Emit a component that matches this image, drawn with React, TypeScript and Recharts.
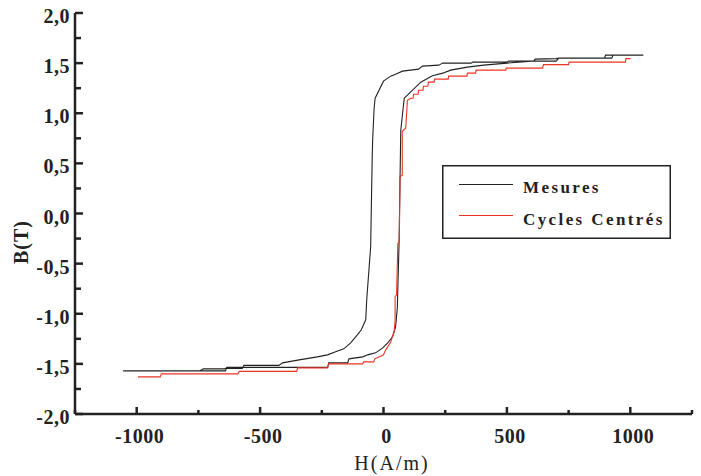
import { LineChart, Line, XAxis, YAxis, Legend } from 'recharts';

// Mesures : cycle complet (branche descendante puis montante)
const mesuresH = [
  1053, 900, 895, 710, 700, 615, 608, 507, 500, 362, 355, 240, 232, 224, 158, 142,
  77, 49, 29, 0, -34, -38, -44, -46, -52, -68, -72, -90, -106, -133, -161, -194,
  -227, -268, -342, -409, -424, -566, -572, -640, -645, -730, -745, -1055,
  -640, -635, -226, -222, -145, -140, -84, -64, -32, -3, 17, 37, 49, 56, 63, 70,
  84, 97, 151, 198, 240, 272, 340, 406, 500, 600, 700, 710, 925, 930, 1053,
];
const mesuresB = [
  1.58, 1.58, 1.55, 1.55, 1.545, 1.54, 1.52, 1.52, 1.51, 1.51, 1.5, 1.5, 1.49, 1.48, 1.47, 1.44,
  1.42, 1.39, 1.37, 1.32, 1.15, 1.05, 0.73, 0.53, -0.33, -0.86, -1.06, -1.16, -1.21, -1.29, -1.35, -1.38,
  -1.41, -1.43, -1.46, -1.49, -1.515, -1.515, -1.545, -1.545, -1.55, -1.55, -1.57, -1.57,
  -1.57, -1.535, -1.535, -1.49, -1.49, -1.45, -1.43, -1.41, -1.39, -1.34, -1.29, -1.23, -1.13, -0.94, -0.3, 0.83,
  1.15, 1.18, 1.31, 1.375, 1.4, 1.43, 1.46, 1.48, 1.5, 1.52, 1.52, 1.55, 1.55, 1.58, 1.58,
];

// Cycles centrés : branche montante
const centresH = [
  -995, -905, -900, -590, -585, -352, -348, -227, -222, -85, -80, -40, -35, 0, 5, 12,
  22, 30, 35, 43, 47, 47, 53, 58, 64, 67, 76, 76, 90, 97, 110, 120,
  122, 140, 142, 160, 162, 180, 182, 205, 207, 262, 264, 338, 340, 373, 375, 495,
  497, 645, 648, 750, 752, 980, 982, 1001,
];
const centresB = [
  -1.63, -1.63, -1.6, -1.6, -1.575, -1.575, -1.54, -1.54, -1.5, -1.5, -1.48, -1.48, -1.45, -1.41, -1.38, -1.35,
  -1.31, -1.28, -1.23, -1.18, -1.07, -0.83, -0.81, -0.3, -0.28, 0.37, 0.38, 0.82, 0.85, 1.13, 1.15, 1.15,
  1.19, 1.19, 1.23, 1.23, 1.27, 1.27, 1.31, 1.31, 1.34, 1.34, 1.37, 1.37, 1.4, 1.4, 1.43, 1.43,
  1.45, 1.45, 1.485, 1.485, 1.51, 1.51, 1.545, 1.545,
];

const seriesNames = ['Mesures', 'Cycles Centrés'];
const majorX = [-1000, -500, 0, 500, 1000];
const xTicks = [-1250, -1000, -750, -500, -250, 0, 250, 500, 750, 1000, 1250];
const majorY = [-2, -1.5, -1, -0.5, 0, 0.5, 1, 1.5, 2];
const yTicks = [-2, -1.75, -1.5, -1.25, -1, -0.75, -0.5, -0.25, 0, 0.25, 0.5, 0.75, 1, 1.25, 1.5, 1.75, 2];

const mesures = mesuresH.map((h, i) => ({ H: h, B: mesuresB[i] }));
const centres = centresH.map((h, i) => ({ H: h, B: centresB[i] }));

const FONT = '"Liberation Serif", "Times New Roman", serif';
const AXIS = '#222';

function XTick({ x, y, payload }: any) {
  const major = majorX.includes(payload.value);
  return (
    <g>
      <line x1={x} x2={x} y1={y} y2={y - (major ? 7 : 4)} stroke={AXIS} strokeWidth={2.5} />
      {major && (
        <text x={x + 3} y={y + 29} textAnchor="middle" fontFamily={FONT} fontWeight="bold"
          fontSize={20} letterSpacing={0.5} fill="#222">
          {payload.value}
        </text>
      )}
    </g>
  );
}

function YTick({ x, y, payload }: any) {
  const major = majorY.includes(payload.value);
  return (
    <g>
      <line x1={x} x2={x + (major ? 8 : 6)} y1={y} y2={y} stroke={AXIS} strokeWidth={2.5} />
      {major && (
        <text x={x - 5} y={y + 10} textAnchor="end" fontFamily={FONT} fontWeight="bold"
          fontSize={20} letterSpacing={0.5} fill="#222">
          {payload.value.toFixed(1).replace('.', ',')}
        </text>
      )}
    </g>
  );
}

function LegendBox({ payload }: any) {
  const items = seriesNames
    .map((n) => (payload || []).find((p: any) => p.value === n))
    .filter(Boolean);
  return (
    <svg width={229} height={74} style={{ display: 'block' }}>
      <rect x={0.75} y={0.75} width={227.5} height={72.5} fill="#fff" stroke="#222" strokeWidth={1.5} />
      {items.map((p: any, i: number) => (
        <g key={p.value}>
          <line x1={17} x2={71} y1={19.5 + i * 31} y2={19.5 + i * 31} stroke={p.color} strokeWidth={1.2} />
          <text x={81} y={28 + i * 32} fontFamily={FONT} fontWeight="bold" fontSize={17}
            letterSpacing={2.4} fill="#222">
            {p.value}
          </text>
        </g>
      ))}
    </svg>
  );
}

export default function App() {
  return (
    <div style={{ position: 'absolute', left: 0, top: 0, width: 701, height: 476, background: '#fff' }}>
      <LineChart width={701} height={476} margin={{ top: 13, right: 9, bottom: 0, left: 0 }}>
        <XAxis
          dataKey="H"
          type="number"
          domain={[-1250, 1250]}
          ticks={xTicks}
          interval={0}
          height={62}
          tickSize={0}
          tickMargin={0}
          tickLine={false}
          axisLine={{ stroke: AXIS, strokeWidth: 2.5 }}
          tick={<XTick />}
          label={{
            content: () => (
              <text x={392} y={470} textAnchor="middle" fontFamily={FONT} fontSize={20}
                letterSpacing={2} fill="#222">
                H(A/m)
              </text>
            ),
          }}
        />
        <YAxis
          type="number"
          domain={[-2, 2]}
          ticks={yTicks}
          interval={0}
          width={75}
          tickSize={0}
          tickMargin={0}
          tickLine={false}
          axisLine={{ stroke: AXIS, strokeWidth: 2.5 }}
          tick={<YTick />}
          label={{
            content: () => (
              <text x={28} y={242} transform="rotate(-90 28 242)" textAnchor="middle"
                fontFamily={FONT} fontWeight="bold" fontSize={20} letterSpacing={1} fill="#222">
                B(T)
              </text>
            ),
          }}
        />
        <Legend
          layout="horizontal"
          align="center"
          verticalAlign="middle"
          wrapperStyle={{ left: 442, top: 165, width: 229, height: 74 }}
          content={<LegendBox />}
        />
        <Line
          data={mesures}
          dataKey="B"
          name="Mesures"
          type="linear"
          stroke="#222"
          strokeWidth={1.1}
          dot={false}
          isAnimationActive={false}
        />
        <Line
          data={centres}
          dataKey="B"
          name="Cycles Centrés"
          type="linear"
          stroke="#ee3322"
          strokeWidth={1.1}
          dot={false}
          isAnimationActive={false}
        />
      </LineChart>
    </div>
  );
}
